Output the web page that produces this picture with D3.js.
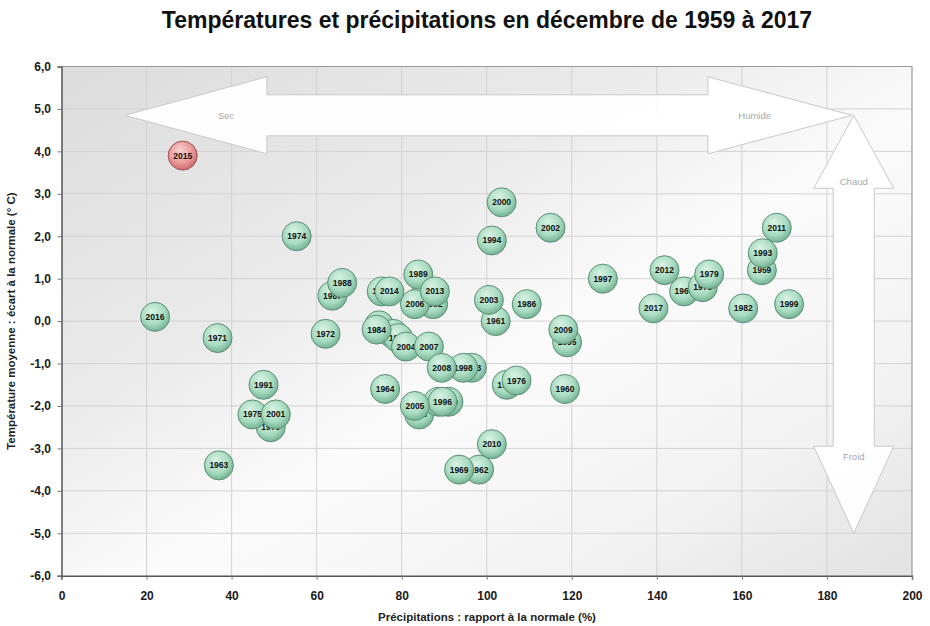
<!DOCTYPE html>
<html><head><meta charset="utf-8">
<script src="https://cdn.jsdelivr.net/npm/d3@7"></script>
<style>body{margin:0;background:#fff}svg{display:block}</style>
</head><body>
<svg id="c" width="930" height="626"></svg>
<script>
const years  = [1959,1960,1961,1962,1963,1964,1965,1966,1967,1968,1969,1970,1971,1972,1973,1974,1975,1976,1977,1978,1979,1980,1981,1982,1983,1984,1985,1986,1987,1988,1989,1990,1991,1992,1993,1994,1995,1996,1997,1998,1999,2000,2001,2002,2003,2004,2005,2006,2007,2008,2009,2010,2011,2012,2013,2014,2015,2016,2017];
const precip = [164.7,118.4,102.1,98.2,37.0,76.1,104.7,146.4,84.1,74.7,93.5,49.2,36.7,62.1,96.5,55.3,44.9,107.0,85.5,150.8,152.3,88.6,78.0,160.3,79.2,74.1,75.3,109.4,63.7,66.0,83.9,91.0,47.5,87.4,164.9,101.2,118.9,89.6,127.3,94.5,171.1,103.5,50.4,115.0,100.5,81.0,83.1,83.1,86.4,89.4,118.0,101.2,168.2,141.8,87.8,77.1,28.5,22.0,139.2];
const temp   = [1.2,-1.6,0.0,-3.5,-3.4,-1.6,-1.5,0.7,-2.2,-0.1,-3.5,-2.5,-0.4,-0.3,-1.1,2.0,-2.2,-1.4,0.6,0.8,1.1,-1.9,-0.3,0.3,-0.4,-0.2,0.7,0.4,0.6,0.9,1.1,-1.9,-1.5,0.4,1.6,1.9,-0.5,-1.9,1.0,-1.1,0.4,2.8,-2.2,2.2,0.5,-0.6,-2.0,0.4,-0.6,-1.1,-0.2,-2.9,2.2,1.2,0.7,0.7,3.9,0.1,0.3];
const highlightYear = 2015;
const xTicks = [0,20,40,60,80,100,120,140,160,180,200];
const yTicks = [6,5,4,3,2,1,0,-1,-2,-3,-4,-5,-6];
const title = "Températures et précipitations en décembre de 1959 à 2017";
const xLabel = "Précipitations : rapport à la normale (%)";
const yLabel = "Température moyenne : écart à la normale (° C)";

const svg = d3.select("#c");
const L = 61.5, R = 912, T = 66.5, B = 575.7;
const x = d3.scaleLinear().domain([0,200]).range([L,R]);
const y = d3.scaleLinear().domain([-6,6]).range([B,T]);

const defs = svg.append("defs");
const bg = defs.append("linearGradient").attr("id","bg").attr("x1","0").attr("y1","0").attr("x2","1").attr("y2","1");
bg.append("stop").attr("offset","0%").attr("stop-color","#dcdcdc");
bg.append("stop").attr("offset","35%").attr("stop-color","#ebebeb");
bg.append("stop").attr("offset","55%").attr("stop-color","#fbfbfb");
bg.append("stop").attr("offset","80%").attr("stop-color","#f2f2f2");
bg.append("stop").attr("offset","100%").attr("stop-color","#e2e2e2");
function radial(id, c0, c1, c2){
  const g = defs.append("radialGradient").attr("id",id).attr("cx","45%").attr("cy","40%").attr("r","60%").attr("fx","40%").attr("fy","30%");
  g.append("stop").attr("offset","0%").attr("stop-color",c0);
  g.append("stop").attr("offset","65%").attr("stop-color",c1);
  g.append("stop").attr("offset","100%").attr("stop-color",c2);
}
radial("gGreen","#d9f2e4","#a9dcc2","#74b393");
radial("gRed","#fad2d2","#eb9a9a","#cf6a6a");

svg.append("rect").attr("x",L).attr("y",T).attr("width",R-L).attr("height",B-T).attr("fill","url(#bg)");

// grid
svg.append("g").selectAll("line").data(xTicks.slice(1,-1)).join("line")
  .attr("x1",d=>x(d)).attr("x2",d=>x(d)).attr("y1",T).attr("y2",B)
  .attr("stroke","#d2d2d2").attr("stroke-width",1);
svg.append("g").selectAll("line").data(yTicks.slice(1,-1)).join("line")
  .attr("y1",d=>y(d)).attr("y2",d=>y(d)).attr("x1",L).attr("x2",R)
  .attr("stroke","#d2d2d2").attr("stroke-width",1);

// frame
svg.append("path").attr("d",`M${L},${T}H${R}V${B}`).attr("fill","none").attr("stroke","#9a9a9a").attr("stroke-width",1.2);

// arrows (decoration anchored to data space)
const hx = x(185.9), hy = y(4.85);
const leftTip = x(14.9), headL = x(48.3), headR = x(152.0);
const hh = 38.5, sh = 20.5;
const hArrow = `M${leftTip},${hy} L${headL},${hy-hh} L${headL},${hy-sh} L${headR},${hy-sh} L${headR},${hy-hh} L${hx},${hy} L${headR},${hy+hh} L${headR},${hy+sh} L${headL},${hy+sh} L${headL},${hy+hh} Z`;
svg.append("path").attr("d",hArrow).attr("fill","#ffffff").attr("fill-opacity",0.95).attr("stroke","#c9c9c9").attr("stroke-width",1);
const vx = x(186.3), topTip = hy, headT = y(3.13), headBt = y(-2.95), botTip = y(-5.0);
const vh = 40, vs = 20.5;
const vArrow = `M${vx},${topTip} L${vx+vh},${headT} L${vx+vs},${headT} L${vx+vs},${headBt} L${vx+vh},${headBt} L${vx},${botTip} L${vx-vh},${headBt} L${vx-vs},${headBt} L${vx-vs},${headT} L${vx-vh},${headT} Z`;
svg.append("path").attr("d",vArrow).attr("fill","#ffffff").attr("fill-opacity",0.95).attr("stroke","#c9c9c9").attr("stroke-width",1);
const arrowTxt = {fill:"#a8a8a8","font-family":"Liberation Sans, Arial, sans-serif","font-size":"9.5px"};
function atext(tx,ty,s){const t=svg.append("text").attr("x",tx).attr("y",ty).attr("text-anchor","middle").attr("dominant-baseline","central").text(s);for(const k in arrowTxt)t.attr(k,arrowTxt[k]);}
atext(x(38.7),hy,"Sec");
atext(x(163.0),hy,"Humide");
atext(vx,y(3.3),"Chaud");
atext(vx,y(-3.18),"Froid");

// axes
const fmtY = d => d3.format(".1f")(d).replace(".",",").replace("\u2212","-");
const xAxis = svg.append("g").attr("transform",`translate(0,${B})`).call(d3.axisBottom(x).tickValues(xTicks).tickSize(4).tickFormat(d3.format("d")));
const yAxis = svg.append("g").attr("transform",`translate(${L},0)`).call(d3.axisLeft(y).tickValues(yTicks).tickSize(4).tickFormat(fmtY));
[xAxis,yAxis].forEach(a=>{
  a.select(".domain").attr("stroke","#555").attr("stroke-width",1.5);
  a.selectAll(".tick line").attr("stroke","#777");
  a.selectAll("text").attr("font-family","Liberation Sans, Arial, sans-serif").attr("font-weight","bold").attr("font-size","12px").attr("fill","#1a1a1a");
});
xAxis.selectAll("text").attr("dy","1.45em");
yAxis.selectAll("text").attr("dx","-0.3em");

// points
const pts = years.map((yr,i)=>({yr,p:precip[i],t:temp[i]}));
const g = svg.append("g").selectAll("g").data(pts).join("g").attr("transform",d=>`translate(${x(d.p)},${y(d.t)})`);
g.append("circle").attr("r",14.5)
  .attr("fill",d=>d.yr===highlightYear?"url(#gRed)":"url(#gGreen)")
  .attr("stroke",d=>d.yr===highlightYear?"#9a5555":"#5f8f77").attr("stroke-width",1);
g.append("text").text(d=>d.yr).attr("text-anchor","middle").attr("dominant-baseline","central")
  .attr("font-family","Liberation Sans Narrow, Arial Narrow, sans-serif").attr("font-weight","bold").attr("font-size","8.5px").attr("fill","#111");

// titles
svg.append("text").attr("x",487).attr("y",28).attr("text-anchor","middle").text(title)
  .attr("font-family","Liberation Sans, Arial, sans-serif").attr("font-weight","bold").attr("font-size","23px").attr("fill","#111");
svg.append("text").attr("x",487).attr("y",621).attr("text-anchor","middle").text(xLabel)
  .attr("font-family","Liberation Sans, Arial, sans-serif").attr("font-weight","bold").attr("font-size","11.5px").attr("fill","#222");
svg.append("text").attr("transform",`translate(15,${(T+B)/2}) rotate(-90)`).attr("text-anchor","middle").text(yLabel)
  .attr("font-family","Liberation Sans, Arial, sans-serif").attr("font-weight","bold").attr("font-size","11.5px").attr("fill","#222");
</script>
</body></html>
